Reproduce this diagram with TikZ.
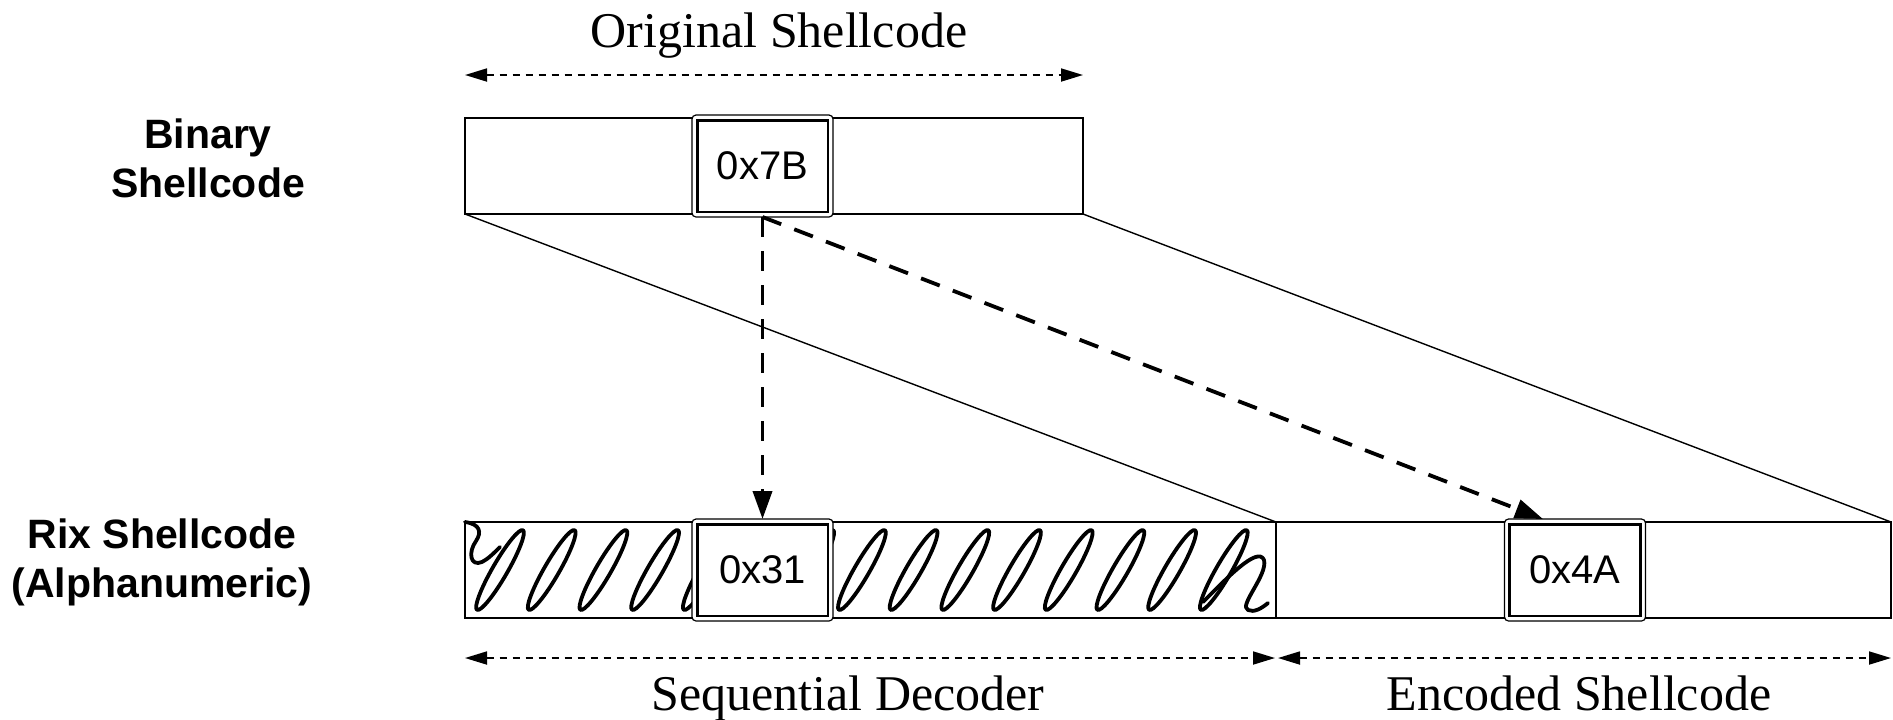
\documentclass[tikz,border=0pt]{standalone}
\usepackage{fontspec}
\setmainfont{Liberation Serif}
\newfontfamily\labelfont{Liberation Sans}
\usetikzlibrary{arrows.meta}

\tikzset{
  frame/.style={draw, line width=0.7pt, inner sep=0pt, outer sep=0pt},
  cell/.style={draw, line width=0.6pt, rounded corners=2pt, fill=white,
    minimum width=70.5pt, minimum height=51pt, inner sep=0pt, outer sep=0pt,
    font=\labelfont\fontsize{20}{24}\selectfont},
  cellin/.style={draw, line width=1.3pt},
  extent/.style={line width=0.9pt, dash pattern=on 3.7pt off 2.8pt,
    {Triangle[length=11pt,width=6.5pt]}-{Triangle[length=11pt,width=6.5pt]}},
  copyarrow/.style={line width=1.9pt, dash pattern=on 10pt off 7pt,
    -{Triangle[length=14pt,width=9.5pt]}},
  scrib/.style={line width=1.9pt, line cap=round, line join=round},
  side/.style={font=\labelfont\bfseries\fontsize{20.5}{24.5}\selectfont, align=center},
  capt/.style={font=\fontsize{25}{30}\selectfont, anchor=base, inner sep=0pt},
}

\begin{document}
\begin{tikzpicture}[x=0.5pt, y=-0.5pt]
\useasboundingbox (0,0) rectangle (1893,719);

% row labels
\node[side] (lbin) at (208,158) {Binary\\Shellcode};
\node[side] (lrix) at (162,562) {Rix Shellcode\\(Alphanumeric)};

% byte strips
\node[frame, minimum width=309pt, minimum height=48pt] (bin) at (774,166) {};
\node[frame, minimum width=405.5pt, minimum height=48pt] (dec) at (870.5,570) {};
\node[frame, minimum width=307.5pt, minimum height=48pt] (enc) at (1583.5,570) {};

% scribbled decoder region
\draw[scrib] (465,522) .. controls (480,524) and (482,532) .. (476,541)
  .. controls (468,552) and (470,567) .. (482,562)
  .. controls (488,559) and (494,553) .. (500,547);
\foreach \i in {0,...,14}{
  \pgfmathsetmacro{\cx}{500+51.7*\i}
  \draw[scrib, rotate around={60:(\cx,570)}] (\cx,570) ellipse [x radius=46, y radius=7.5];
}
\draw[scrib] (1203,602) .. controls (1225,580) and (1258,545) .. (1264,560)
  .. controls (1268,575) and (1238,606) .. (1248,610)
  .. controls (1254,613) and (1262,608) .. (1268,603);

% projection from the binary strip onto the Rix strip
\draw[line width=0.7pt] (bin.south west) -- (dec.north east);
\draw[line width=0.7pt] (bin.south east) -- (enc.north east);

% byte cells
\node[cell] (b7) at (762.5,166) {0x7B};
\node[cell] (b31) at (762.5,570) {0x31};
\node[cell] (b4A) at (1575,570) {0x4A};
\foreach \n in {b7,b31,b4A}{
  \draw[cellin] ([shift={(2.6pt,-2.6pt)}]\n.north west) rectangle ([shift={(-2.6pt,2.6pt)}]\n.south east);
}

% byte mapping arrows
\draw[copyarrow] (b7.south) -- (b31.north);
\draw[copyarrow] (b7.south) -- ([xshift=-16pt]b4A.north);

% extent arrows
\coordinate (ol) at (465,75);
\coordinate (or) at (1083,75);
\coordinate (dl) at (465,658);
\coordinate (dr) at (1275,658);
\coordinate (el) at (1278,658);
\coordinate (er) at (1891,658);
\draw[extent] (ol) -- (or);
\draw[extent] (dl) -- (dr);
\draw[extent] (el) -- (er);

% captions
\node[capt] (corig) at (779,47) {Original Shellcode};
\node[capt] (cdec) at (848,710) {Sequential Decoder};
\node[capt] (cenc) at (1579,710) {Encoded Shellcode};
\end{tikzpicture}
\end{document}
